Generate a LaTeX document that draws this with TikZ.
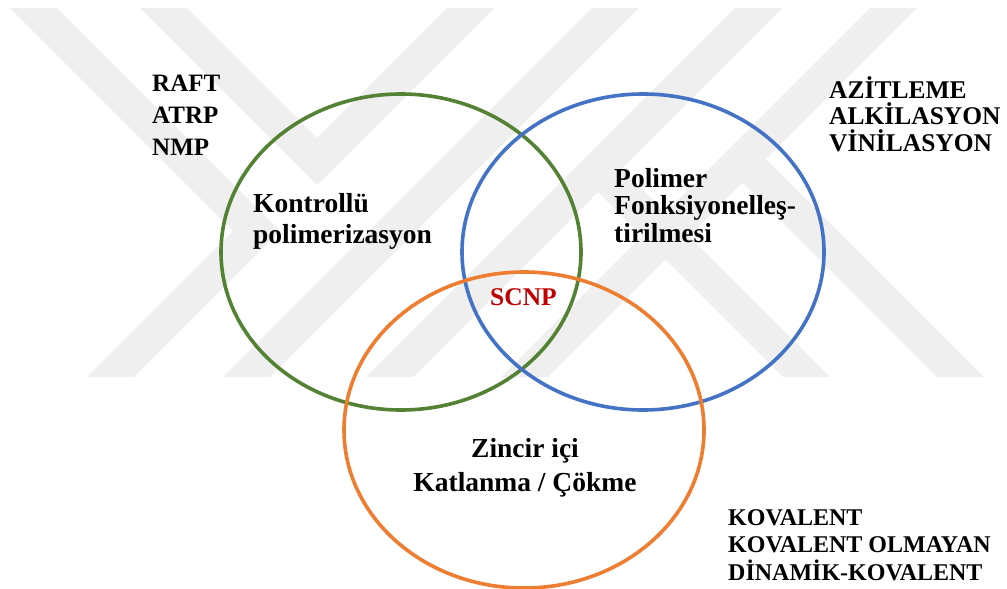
\documentclass[tikz,border=0pt]{standalone}
\usepackage{fontspec}
\setmainfont{Liberation Serif}
\usepackage{tikz}
\definecolor{ringgreen}{RGB}{84,130,53}
\definecolor{ringblue}{RGB}{68,114,196}
\definecolor{ringorange}{RGB}{237,125,49}
\definecolor{scnpred}{RGB}{192,0,0}
\definecolor{wmgray}{RGB}{239,239,239}

\begin{document}
\begin{tikzpicture}[x=1pt,y=-1pt]
\tikzstyle{ring} = [line width=3.6pt]
\tikzstyle{wm} = [fill=wmgray]
\tikzstyle{label} = [anchor=base west, inner sep=0pt, align=left]
\tikzstyle{inner label} = [label, font=\fontsize{27.5}{31}\selectfont\bfseries]

\useasboundingbox (0,0) rectangle (1007,589);

% watermark
\fill[wm] (10,8) -- (57,8) -- (280,231) -- (134,377) -- (87,377) -- (233,231) -- cycle;
\fill[wm] (140,8) -- (187,8) -- (317,138) -- (447,8) -- (494,8) -- (317,185) -- cycle;
\fill[wm] (223,377) -- (270,377) -- (639,8) -- (592,8) -- cycle;
\fill[wm] (366,377) -- (735,8) -- (782,8) -- (621.5,168.5) -- (830,377) -- (783,377) -- (598,192) -- (413,377) -- cycle;
\fill[wm] (501,377) -- (870,8) -- (917,8) -- (766,159) -- (984,377) -- (937,377) -- (742.5,182.5) -- (548,377) -- cycle;

% circles
\coordinate (gc) at (401,252);
\coordinate (bc) at (643,252);
\coordinate (oc) at (524,430);
\draw[ring, ringgreen] (gc) ellipse [x radius=180, y radius=158];
\draw[ring, ringblue] (bc) ellipse [x radius=181, y radius=158];
\draw[ring, ringorange] (oc) ellipse [x radius=180, y radius=158];

% texts (anchored at the last line)
\node[label, font=\fontsize{25}{31.7}\selectfont\bfseries] (raft) at (152,155) {RAFT\\ATRP\\NMP};
\node[label, font=\fontsize{25.5}{26.5}\selectfont\bfseries] (azit) at (829,151) {AZİTLEME\\ALKİLASYON\\VİNİLASYON};
\node[label, font=\fontsize{24}{27.5}\selectfont\bfseries] (kov) at (728,580) {KOVALENT\\KOVALENT OLMAYAN\\DİNAMİK-KOVALENT};
\node[inner label] (kontrol) at (253,243) {Kontrollü\\polimerizasyon};
\node[inner label, font=\fontsize{27.5}{27.5}\selectfont\bfseries] (polimer) at (614,242) {Polimer\\Fonksiyonelleş-\\tirilmesi};
\node[label, text=scnpred, font=\fontsize{25.5}{30}\selectfont\bfseries] (scnp) at (490,305) {SCNP};
\node[inner label, anchor=base, align=center, font=\fontsize{27.5}{34}\selectfont\bfseries] (zincir) at (525,491) {Zincir içi\\Katlanma / Çökme};
\end{tikzpicture}
\end{document}
